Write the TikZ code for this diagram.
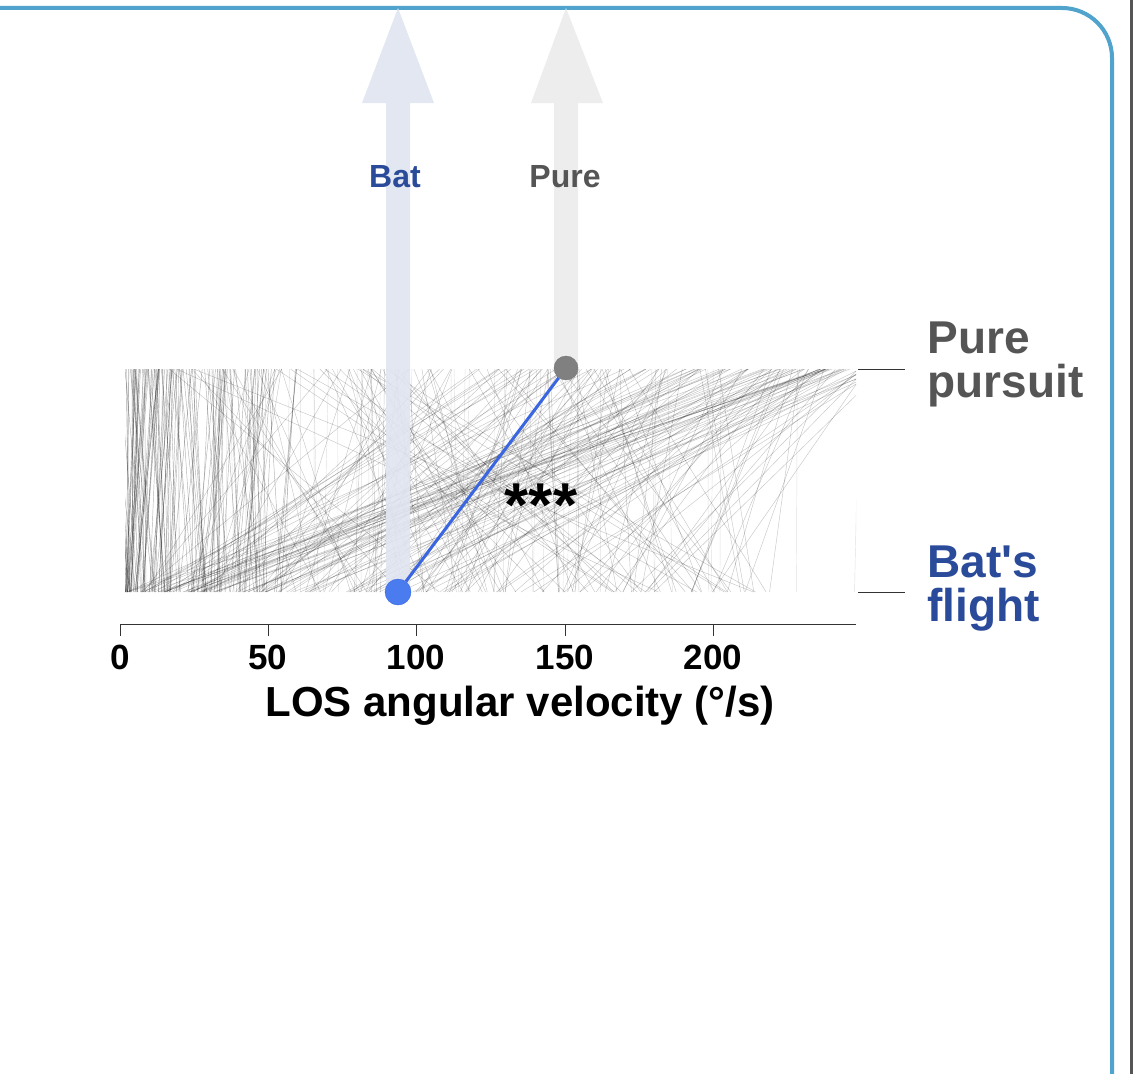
\documentclass[tikz,border=0pt]{standalone}
\usepackage{fontspec}
\setmainfont{Liberation Sans}
\newfontfamily\rawsans{Liberation Sans}[Ligatures=ResetAll]
\definecolor{frame}{HTML}{4FA3CC}
\definecolor{batblue}{HTML}{2A4A9A}
\definecolor{dotblue}{HTML}{4A7CF0}
\definecolor{linkblue}{HTML}{3A66E0}
\definecolor{batarrow}{HTML}{E0E5F0}
\definecolor{purearrow}{HTML}{ECECEC}
\definecolor{puregray}{HTML}{555555}
\begin{document}
\begin{tikzpicture}[x=1pt,y=-1pt,
  lab/.style={font=\bfseries\fontsize{32}{34}\selectfont},
  tick/.style={font=\bfseries\fontsize{35}{38}\selectfont},
  side/.style={font=\bfseries\fontsize{46}{48}\selectfont,align=left,anchor=west},
  traj/.style={black,opacity=0.3,line width=0.45pt}]
\useasboundingbox (0,0) rectangle (1137,1073);
\fill[white] (0,0) rectangle (1137,1073);
\begin{scope}
\clip (0,0) rectangle (1137,1073);
\draw[frame,line width=4pt,rounded corners=50pt] (-20,8) -- (1112,8) -- (1112,1110);
\draw[puregray,line width=3pt,rounded corners=20pt] (1131,-5) -- (1131,1110);
\end{scope}
% trajectories
\begin{scope}
\clip (125,369) rectangle (856,592);
\pgfmathsetseed{7}
\foreach \i in {1,...,130}{
  \pgfmathsetmacro\xa{125+160*rnd^1.6}
  \pgfmathsetmacro\xb{\xa+(rnd-0.5)*50}
  \draw[traj] (\xa,592) -- (\xb,369);}
\foreach \i in {1,...,230}{
  \pgfmathsetmacro\xa{125+650*rnd^1.2}
  \pgfmathsetmacro\xb{125+760*rnd^0.6}
  \draw[traj,opacity=0.22] (\xa,592) -- (\xb,369);}
\foreach \i in {1,...,40}{
  \pgfmathsetmacro\xa{125+731*rnd}
  \pgfmathsetmacro\xb{\xa+(rnd-0.5)*10}
  \draw[traj,opacity=0.12] (\xa,592) -- (\xb,369);}
\end{scope}
% arrows
\fill[batarrow,opacity=0.9] (386,592) -- (386,103) -- (362,103) -- (398,8) -- (434,103) -- (410,103) -- (410,592) -- cycle;
\fill[purearrow,opacity=0.9] (554,369) -- (554,103) -- (531,103) -- (566,8) -- (603,103) -- (578,103) -- (578,369) -- cycle;
\node[lab,text=batblue] (batl) at (395,177) {Bat};
\node[lab,text=puregray] (purel) at (565,177) {Pure};
% points
\node[circle,fill=dotblue,draw=linkblue,inner sep=0pt,minimum size=26pt] (bat) at (398,592) {};
\node[circle,fill=gray,draw=puregray!80,inner sep=0pt,minimum size=24pt] (pure) at (566,368) {};
\draw[linkblue,line width=3pt] (bat) -- (pure);
\node[font=\bfseries\fontsize{62}{62}\selectfont] (star) at (541,505) {***};
% side labels
\coordinate (pa) at (858,369); \coordinate (pb) at (905,369);
\coordinate (ba) at (858,592); \coordinate (bb) at (905,592);
\draw[black!80,line width=1pt] (pa) -- (pb);
\draw[black!80,line width=1pt] (ba) -- (bb);
\node[side,text=puregray] (pp) at (924,364) {Pure\\[-4pt]pursuit};
\node[side,text=batblue] (bf) at (924,589) {{\rawsans\bfseries Bat's}\\[-4pt]flight};
% axis
\draw[black!80,line width=1pt] (120,624) -- (856,624);
\foreach \v/\x in {0/120,50/268,100/416,150/565,200/713}{
  \draw[black!80,line width=1pt] (\x,624) -- (\x,636);
  \node[tick] at (\x,657) {\v};}
\node[font=\bfseries\fontsize{42}{44}\selectfont] (axl) at (520,706) {LOS angular velocity (°/s)};
\end{tikzpicture}
\end{document}
